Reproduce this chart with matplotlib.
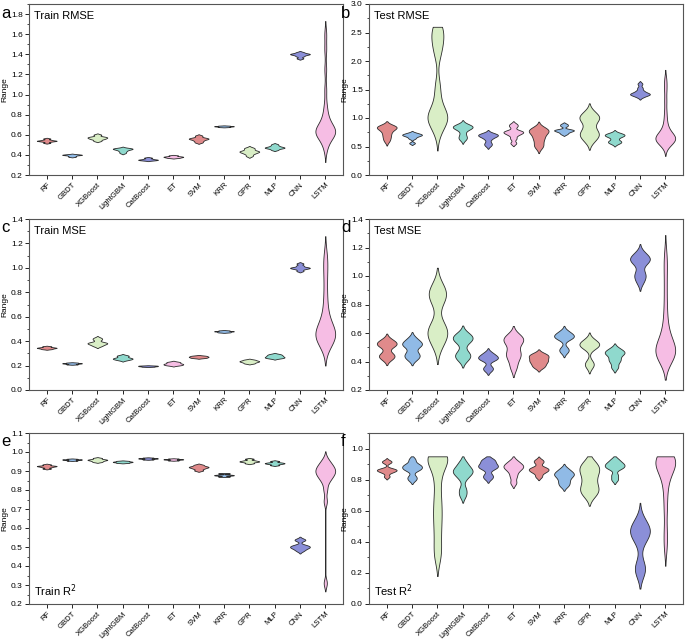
import numpy as np
import matplotlib
matplotlib.use('Agg')
import matplotlib.pyplot as plt
from matplotlib.ticker import MultipleLocator, FormatStrFormatter

plt.rcParams['font.family'] = ['Liberation Sans', 'DejaVu Sans']

# model names on the x axis
models = ['RF', 'GBDT', 'XGBoost', 'LightGBM', 'CatBoost', 'ET',
          'SVM', 'KRR', 'GPR', 'MLP', 'CNN', 'LSTM']

# sample values per model
train_rmse = [
    [0.52, 0.532, 0.538, 0.54, 0.543, 0.55, 0.562],
    [0.382, 0.39, 0.397, 0.40, 0.402, 0.406],
    [0.54, 0.555, 0.563, 0.57, 0.575, 0.582, 0.60],
    [0.42, 0.435, 0.447, 0.455, 0.46, 0.463, 0.468],
    [0.345, 0.349, 0.352, 0.355, 0.362, 0.372],
    [0.37, 0.375, 0.379, 0.382, 0.386, 0.394],
    [0.525, 0.54, 0.552, 0.56, 0.563, 0.572, 0.59],
    [0.677, 0.681, 0.684, 0.686, 0.69],
    [0.39, 0.41, 0.422, 0.43, 0.435, 0.442, 0.458, 0.47],
    [0.45, 0.462, 0.468, 0.472, 0.476, 0.482, 0.492, 0.505],
    [1.36, 1.38, 1.392, 1.40, 1.403, 1.408, 1.42],
    [0.46, 0.52, 0.56, 0.59, 0.60, 0.61, 0.62, 0.63, 0.63, 0.64, 0.65, 0.66,
     0.68, 0.70, 0.73, 0.77, 0.82, 0.90, 1.05, 1.25, 1.45, 1.6],
]
test_rmse = [
    [0.60, 0.66, 0.71, 0.76, 0.80, 0.83, 0.84, 0.85, 0.86],
    [0.56, 0.64, 0.67, 0.69, 0.70, 0.71, 0.72, 0.74],
    [0.75, 0.9, 0.95, 1.0, 1.0, 1.05, 1.1, 1.2, 1.4, 1.6, 2.1, 2.25, 2.35, 2.45,
     2.55, 2.6],
    [0.63, 0.66, 0.72, 0.80, 0.82, 0.84, 0.85, 0.86, 0.88],
    [0.52, 0.56, 0.63, 0.67, 0.69, 0.70, 0.71, 0.73],
    [0.56, 0.64, 0.70, 0.73, 0.75, 0.76, 0.78, 0.85, 0.89],
    [0.49, 0.54, 0.62, 0.66, 0.72, 0.76, 0.78, 0.79, 0.83],
    [0.72, 0.75, 0.77, 0.78, 0.79, 0.80, 0.86, 0.89],
    [0.60, 0.68, 0.72, 0.75, 0.85, 0.97, 1.0, 1.02, 1.10],
    [0.56, 0.58, 0.60, 0.66, 0.69, 0.70, 0.71, 0.73],
    [1.37, 1.40, 1.41, 1.42, 1.43, 1.45, 1.48, 1.53, 1.60],
    [0.52, 0.56, 0.59, 0.61, 0.62, 0.63, 0.64, 0.65, 0.66, 0.68, 0.70, 0.73,
     0.78, 0.85, 0.95, 1.1, 1.3, 1.5, 1.66],
]
train_mse = [
    [0.335, 0.34, 0.344, 0.346, 0.35, 0.357],
    [0.21, 0.215, 0.218, 0.22, 0.224],
    [0.36, 0.372, 0.38, 0.385, 0.39, 0.412, 0.425],
    [0.245, 0.252, 0.256, 0.26, 0.266, 0.277, 0.283],
    [0.191, 0.194, 0.196, 0.198, 0.2],
    [0.202, 0.207, 0.212, 0.216, 0.224, 0.23],
    [0.262, 0.266, 0.27, 0.273, 0.277, 0.281],
    [0.472, 0.476, 0.48, 0.482, 0.487],
    [0.218, 0.226, 0.232, 0.236, 0.241, 0.248],
    [0.26, 0.266, 0.271, 0.278, 0.285, 0.293],
    [0.975, 0.99, 0.998, 1.0, 1.005, 1.018, 1.035],
    [0.36, 0.39, 0.41, 0.43, 0.44, 0.45, 0.46, 0.47, 0.48, 0.50, 0.53, 0.57,
     0.62, 0.70, 0.80, 0.92, 1.02, 1.1],
]
test_mse = [
    [0.42, 0.44, 0.45, 0.51, 0.52, 0.53, 0.55],
    [0.42, 0.44, 0.46, 0.51, 0.52, 0.53, 0.56],
    [0.52, 0.58, 0.60, 0.62, 0.65, 0.84, 0.86, 0.88, 0.92],
    [0.42, 0.44, 0.46, 0.54, 0.56, 0.57, 0.59],
    [0.34, 0.36, 0.41, 0.42, 0.43, 0.44, 0.46],
    [0.36, 0.42, 0.45, 0.47, 0.53, 0.55, 0.56, 0.58],
    [0.36, 0.38, 0.40, 0.41, 0.43, 0.44, 0.455],
    [0.47, 0.49, 0.56, 0.57, 0.58, 0.59, 0.61],
    [0.37, 0.39, 0.50, 0.51, 0.52, 0.53, 0.55],
    [0.36, 0.40, 0.42, 0.45, 0.46, 0.47, 0.49],
    [0.96, 1.0, 1.02, 1.09, 1.11, 1.12, 1.13, 1.16],
    [0.42, 0.43, 0.44, 0.45, 0.46, 0.47, 0.48, 0.49, 0.50, 0.52, 0.55, 0.58,
     0.63, 0.70, 0.80, 0.92, 1.04, 1.14],
]
train_r2 = [
    [0.913, 0.92, 0.924, 0.926, 0.928, 0.934],
    [0.955, 0.958, 0.96, 0.961, 0.964],
    [0.948, 0.953, 0.957, 0.959, 0.962, 0.968],
    [0.943, 0.946, 0.948, 0.95, 0.953],
    [0.961, 0.964, 0.966, 0.967, 0.97],
    [0.956, 0.959, 0.961, 0.962, 0.965],
    [0.903, 0.912, 0.918, 0.921, 0.925, 0.932],
    [0.871, 0.876, 0.878, 0.88, 0.887],
    [0.941, 0.947, 0.95, 0.952, 0.956, 0.964],
    [0.931, 0.937, 0.94, 0.942, 0.945, 0.952],
    [0.48, 0.49, 0.497, 0.50, 0.505, 0.51, 0.535, 0.54],
    [0.31, 0.74, 0.80, 0.84, 0.86, 0.87, 0.88, 0.89, 0.90, 0.90, 0.91, 0.92,
     0.93, 0.94, 0.96],
]
test_r2 = [
    [0.82, 0.845, 0.855, 0.86, 0.865, 0.87, 0.91, 0.92],
    [0.80, 0.82, 0.86, 0.87, 0.88, 0.89, 0.90, 0.93],
    [0.30, 0.38, 0.47, 0.55, 0.62, 0.70, 0.80, 0.88, 0.92, 0.95, 0.95, 0.95],
    [0.70, 0.74, 0.81, 0.84, 0.85, 0.86, 0.88, 0.91],
    [0.81, 0.83, 0.87, 0.88, 0.89, 0.90, 0.92, 0.93],
    [0.78, 0.82, 0.85, 0.87, 0.88, 0.89, 0.90, 0.92],
    [0.82, 0.845, 0.855, 0.865, 0.87, 0.88, 0.91, 0.925],
    [0.76, 0.78, 0.80, 0.82, 0.83, 0.84, 0.85, 0.87],
    [0.70, 0.73, 0.75, 0.79, 0.83, 0.86, 0.88, 0.91],
    [0.80, 0.83, 0.87, 0.88, 0.89, 0.90, 0.91, 0.93],
    [0.21, 0.22, 0.25, 0.40, 0.44, 0.46, 0.47, 0.48, 0.50, 0.54],
    [0.37, 0.47, 0.60, 0.70, 0.78, 0.83, 0.86, 0.88, 0.90, 0.91, 0.92, 0.93,
     0.94, 0.95, 0.95],
]

colors = ['#e08a8b', '#90bae6', '#d9eec6', '#8fd9cd', '#8b8fd8', '#f6bde4'] * 2

# letter, title, data, y limits, tick step, title position, upper cut of the violins
panels = [
    ('a', 'Train RMSE', train_rmse, (0.2, 1.9), 0.2, 'top', None),
    ('b', 'Test RMSE', test_rmse, (0.0, 3.0), 0.5, 'top', 2.6),
    ('c', 'Train MSE', train_mse, (0.0, 1.4), 0.2, 'top', None),
    ('d', 'Test MSE', test_mse, (0.2, 1.4), 0.2, 'top', None),
    ('e', 'Train R$^2$', train_r2, (0.2, 1.1), 0.1, 'bottom', None),
    ('f', 'Test R$^2$', test_r2, (0.0, 1.1), 0.2, 'bottom', 0.95),
]

# a few violins need a fixed kernel width
bw_fixed = {('b', 'XGBoost'): 0.16, ('f', 'XGBoost'): 0.06}


def kde_stats(values, cap, bw=None, factor=0.45, ext=2.0):
    x = np.asarray(values, dtype=float)
    if bw is None:
        q1, q3 = np.percentile(x, [25, 75])
        bw = factor * min(x.std(ddof=1), (q3 - q1) / 1.34)
    lo, hi = x.min() - ext * bw, x.max() + ext * bw
    if cap is not None:
        hi = min(hi, cap)
    coords = np.linspace(lo, hi, 400)
    vals = np.exp(-0.5 * ((coords[:, None] - x[None, :]) / bw) ** 2).sum(axis=1)
    return dict(coords=coords, vals=vals, mean=x.mean(), median=np.median(x),
                min=x.min(), max=x.max())


fig = plt.figure(figsize=(6.85, 6.42), dpi=100)

# axes positions in pixels
lefts = [29, 369]
rows = [(4, 175), (219, 390), (433, 604)]

for i, (letter, title, data, ylim, step, where, cap) in enumerate(panels):
    col = i % 2
    top, bot = rows[i // 2]
    x0 = lefts[col]
    ax = fig.add_axes([x0 / 685, 1 - bot / 642, 314 / 685, (bot - top) / 642])

    pos = np.arange(1, len(models) + 1)
    stats = [kde_stats(d, cap, bw_fixed.get((letter, m))) for d, m in zip(data, models)]
    parts = ax.violin(stats, positions=pos, widths=0.78, showextrema=False)
    for body, c in zip(parts['bodies'], colors):
        body.set_facecolor(c)
        body.set_edgecolor('#2b2b2b')
        body.set_linewidth(0.6)
        body.set_alpha(1)

    ax.set_xlim(0.3, 12.7)
    ax.set_ylim(*ylim)
    ax.set_xticks(pos)
    ax.set_xticklabels(models, rotation=45, fontsize=5.6, ha='right',
                       rotation_mode='anchor')
    ax.yaxis.set_major_locator(MultipleLocator(step))
    ax.yaxis.set_minor_locator(MultipleLocator(step / 2))
    ax.yaxis.set_major_formatter(FormatStrFormatter('%.1f'))
    ax.tick_params(axis='y', labelsize=6, length=3, width=0.6, pad=1.5)
    ax.tick_params(axis='y', which='minor', length=1.8, width=0.5)
    ax.tick_params(axis='x', length=3, width=0.6, pad=1.5)
    ax.set_ylabel('Range', fontsize=6, labelpad=2)
    for s in ax.spines.values():
        s.set_color('#555555')
        s.set_linewidth(0.8)

    if where == 'top':
        ax.text(0.015, 0.96, title, transform=ax.transAxes, fontsize=8,
                ha='left', va='top')
    else:
        ax.text(0.015, 0.03, title, transform=ax.transAxes, fontsize=8,
                ha='left', va='bottom')

    fig.text((x0 - 28) / 685, 1 - (top + 9) / 642, letter, fontsize=12,
             ha='left', va='center')

fig.savefig('out.png', dpi=100)
